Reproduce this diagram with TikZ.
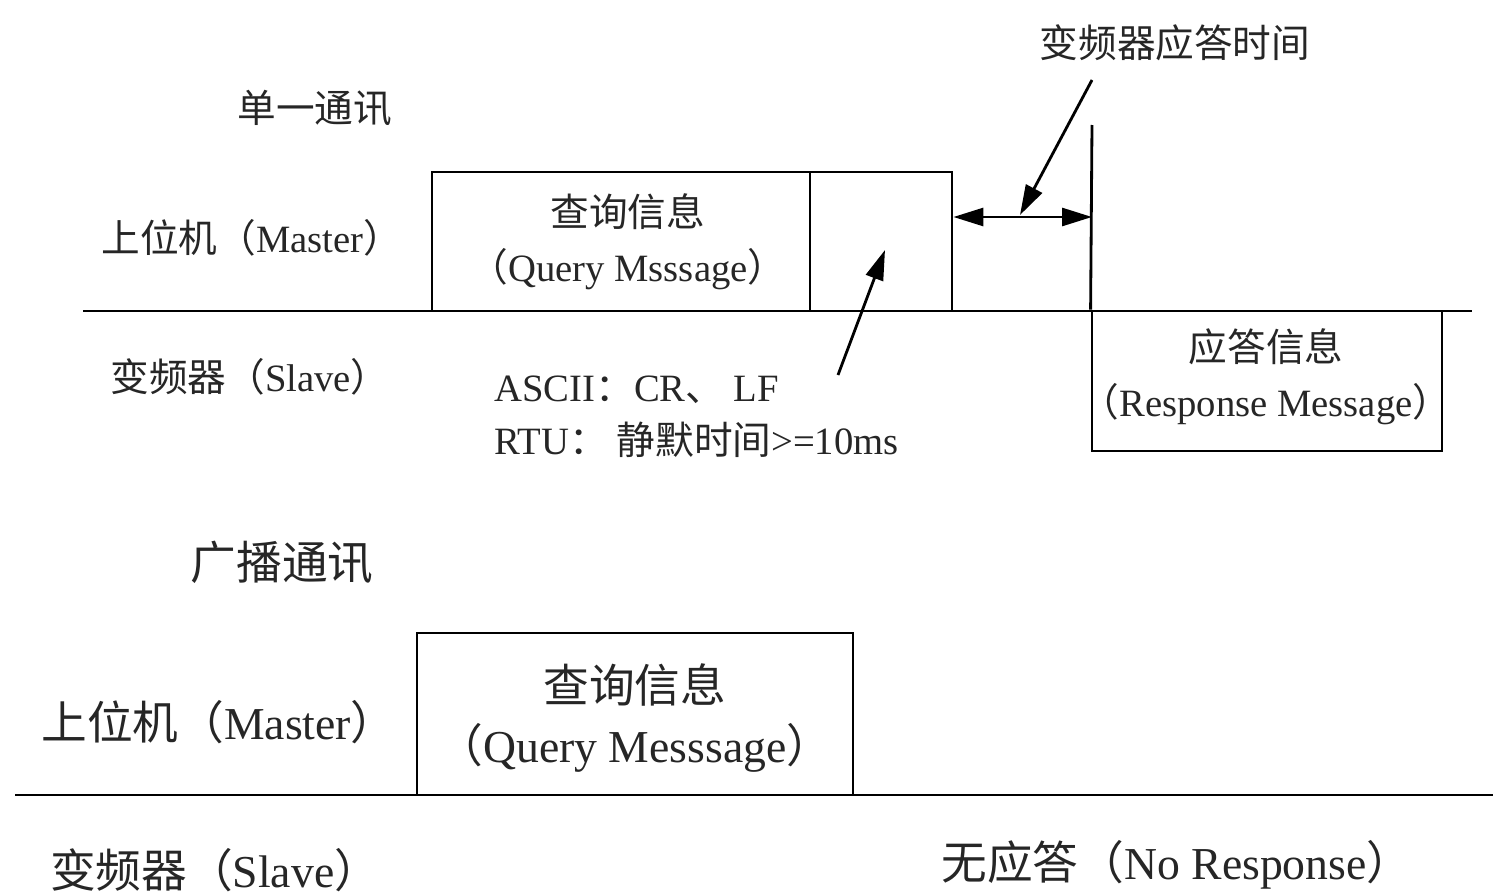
\documentclass[tikz,border=0pt]{standalone}
\usepackage{fontspec}
\setmainfont{Liberation Serif}
\newfontfamily\cjk{Noto Sans CJK SC}
\newcommand{\zh}[1]{{\cjk #1}}
\usetikzlibrary{arrows.meta,positioning}

\begin{document}
\begin{tikzpicture}[x=0.1mm, y=-0.1mm, line width=0.8pt,
    >={Triangle[length=3mm,width=1.8mm]},
    txt/.style={font=\fontsize{11}{15.6}\selectfont, text=black!85, align=center},
    bigtxt/.style={font=\fontsize{13}{17}\selectfont, text=black!85, align=center},
    msg/.style={draw, inner sep=0pt}]
  \useasboundingbox (0,0) rectangle (1493,894);

  % single communication
  \node[txt] (single) at (315,108) {\zh{单一通讯}};
  \node[txt] (m1) at (252,238) {\zh{上位机（}Master\zh{）}};
  \node[txt] (s1) at (250,377) {\zh{变频器（}Slave\zh{）}};
  \node[msg, minimum width=37.8mm, minimum height=13.9mm] (query)
       at (621,241.5) {};
  \node[txt] (queryT) at (628,242) {\zh{查询信息}\\\zh{（}Query Msssage\zh{）}};
  \node[msg, minimum width=14.2mm, minimum height=13.9mm] (gap)
       at (881,241.5) {};
  \node[msg, minimum width=35mm, minimum height=14mm] (resp)
       at (1267,381) {};
  \node[txt] (respT) at (1266,377) {\zh{应答信息}\\\zh{（}Response Message\zh{）}};
  \coordinate (b1L) at (83,311);
  \coordinate (b1R) at (1472,311);
  \draw (b1L) -- (b1R);

  % response time
  \coordinate (rtop) at (1092,125);
  \coordinate (rt) at (1092,217);
  \draw (rtop) -- (resp.north west);
  \draw[<->] (gap.east |- rt) -- (rt);
  \node[txt] (resptime) at (1175,43) {\zh{变频器应答时间}};
  \coordinate (rtA) at (1092,80);
  \coordinate (rtB) at (1020,215);
  \draw[->] (rtA) -- (rtB);

  % end of frame
  \node[txt, anchor=west, align=left, inner sep=0pt, font=\fontsize{11}{15}\selectfont] (crlf)
       at (493,417) {ASCII\zh{：}CR\zh{、} LF\\RTU\zh{：~静默时间}>=10ms};
  \coordinate (crA) at (838,375);
  \coordinate (crB) at (885,250);
  \draw[->] (crA) -- (crB);

  % broadcast
  \node[bigtxt] (bcast) at (282,562) {\zh{广播通讯}};
  \node[bigtxt] (m2) at (219,722) {\zh{上位机（}Master\zh{）}};
  \node[bigtxt] (s2) at (215,870) {\zh{变频器（}Slave\zh{）}};
  \node[msg, minimum width=43.6mm, minimum height=16.2mm] (query2)
       at (635,714) {};
  \node[bigtxt] (query2T) at (635,718) {\zh{查询信息}\\\zh{（}Query Messsage\zh{）}};
  \coordinate (b2L) at (15,795);
  \coordinate (b2R) at (1493,795);
  \draw (b2L) -- (b2R);
  \node[bigtxt] (noresp) at (1177,865) {\zh{无应答（}No Response\zh{）}};
\end{tikzpicture}
\end{document}
